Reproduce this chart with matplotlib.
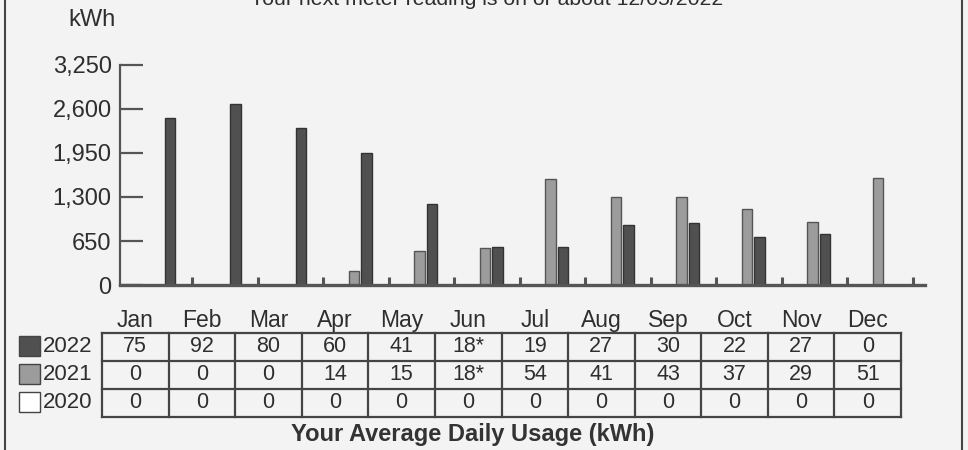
import matplotlib
matplotlib.use("Agg")
import matplotlib.pyplot as plt
from matplotlib.lines import Line2D
from matplotlib.patches import Rectangle
import numpy as np

MONTHS = ["Jan", "Feb", "Mar", "Apr", "May", "Jun",
          "Jul", "Aug", "Sep", "Oct", "Nov", "Dec"]
# monthly kWh
KWH_2022 = [2470, 2676, 2323, 1950, 1190, 554, 554, 882, 922, 716, 760, 0]
KWH_2021 = [0, 0, 0, 210, 500, 545, 1568, 1304, 1304, 1117, 931, 1583]
KWH_2020 = [0] * 12
Y_TICKS = [0, 650, 1300, 1950, 2600, 3250]

# average daily usage table
YEARS = ["2022", "2021", "2020"]
DAILY_2022 = ["75", "92", "80", "60", "41", "18*", "19", "27", "30", "22", "27", "0"]
DAILY_2021 = ["0", "0", "0", "14", "15", "18*", "54", "41", "43", "37", "29", "51"]
DAILY_2020 = ["0"] * 12

DARK = "#505050"
LIGHT = "#9c9c9c"
TEXT = "#2e2e2e"
BG = "#f3f3f3"

plt.rcParams["font.family"] = ["Liberation Sans", "DejaVu Sans"]

fig = plt.figure(figsize=(9.68, 4.5), dpi=100, facecolor=BG)
W, H = 968, 450


def box(x0, y0, x1, y1):
    # pixel box (top-left origin) -> figure fraction rect
    return [x0 / W, 1 - y1 / H, (x1 - x0) / W, (y1 - y0) / H]


# --- bar chart ---
ax = fig.add_axes(box(120, 65, 925, 285))
ax.set_facecolor(BG)
x = np.arange(12)
ax.bar(x - 0.53, KWH_2021, 0.16, color=LIGHT, edgecolor="#555555", linewidth=1)
ax.bar(x - 0.34, KWH_2022, 0.16, color=DARK, edgecolor="#333333", linewidth=1)
ax.bar(x, KWH_2020, 0.16, color="white", edgecolor="#333333", linewidth=1)
ax.set_xlim(-1.10, 11.19)
ax.set_ylim(0, 3250)
ax.set_yticks(Y_TICKS)
ax.set_yticklabels([f"{v:,}" for v in Y_TICKS])
ax.tick_params(axis="y", direction="in", length=16.5, width=1.6, color="#555555",
               pad=6, labelsize=17, labelcolor=TEXT)
ax.set_xticks(x)
ax.set_xticklabels([])
ax.tick_params(axis="x", direction="in", length=6, width=2.2, color="#555555")
for s in ("top", "right"):
    ax.spines[s].set_visible(False)
ax.spines["left"].set_linewidth(1.6)
ax.spines["left"].set_color("#555555")
ax.spines["bottom"].set_linewidth(2.4)
ax.spines["bottom"].set_color("#555555")

fig.text(92 / W, 1 - 20 / H, "kWh", ha="center", va="center", fontsize=17, color=TEXT)
fig.text(487 / W, 1 - 5 / H, "Your next meter reading is on or about 12/05/2022",
         ha="center", va="baseline", fontsize=15.3, color=TEXT)

# --- daily usage table ---
tx = fig.add_axes(box(102, 333, 901, 417))
tx.set_xlim(0, 12)
tx.set_ylim(3, 0)
tx.axis("off")
for i in range(13):
    tx.plot([i, i], [0, 3], color="#444444", lw=1.6, clip_on=False)
for j in range(4):
    tx.plot([0, 12], [j, j], color="#444444", lw=1.6, clip_on=False)
for r, row in enumerate([DAILY_2022, DAILY_2021, DAILY_2020]):
    for c, val in enumerate(row):
        tx.text(c + 0.5, r + 0.5, val, ha="center", va="center", fontsize=15.5, color=TEXT)
for c, m in enumerate(MONTHS):
    tx.text(c + 0.5, -0.45, m, ha="center", va="center", fontsize=16.5, color=TEXT,
            clip_on=False)

# legend squares with year labels
for r, (yr, col) in enumerate(zip(YEARS, [DARK, LIGHT, "white"])):
    y_top = 336 + r * 28
    fig.add_artist(Rectangle((19 / W, 1 - (y_top + 20) / H), 21 / W, 20 / H,
                             facecolor=col, edgecolor="#444444", lw=1,
                             transform=fig.transFigure))
    fig.text(43 / W, 1 - (y_top + 10) / H, yr, ha="left", va="center",
             fontsize=16, color=TEXT)

fig.text(473 / W, 1 - 435 / H, "Your Average Daily Usage (kWh)", ha="center",
         va="center", fontsize=17, fontweight="bold", color="#333333")

# page frame lines from the scan
for px in (5, 962):
    fig.add_artist(Line2D([px / W, px / W], [0, 1], color="#444444", lw=1.5,
                          transform=fig.transFigure))

fig.savefig("out.png", dpi=100, facecolor=BG)
